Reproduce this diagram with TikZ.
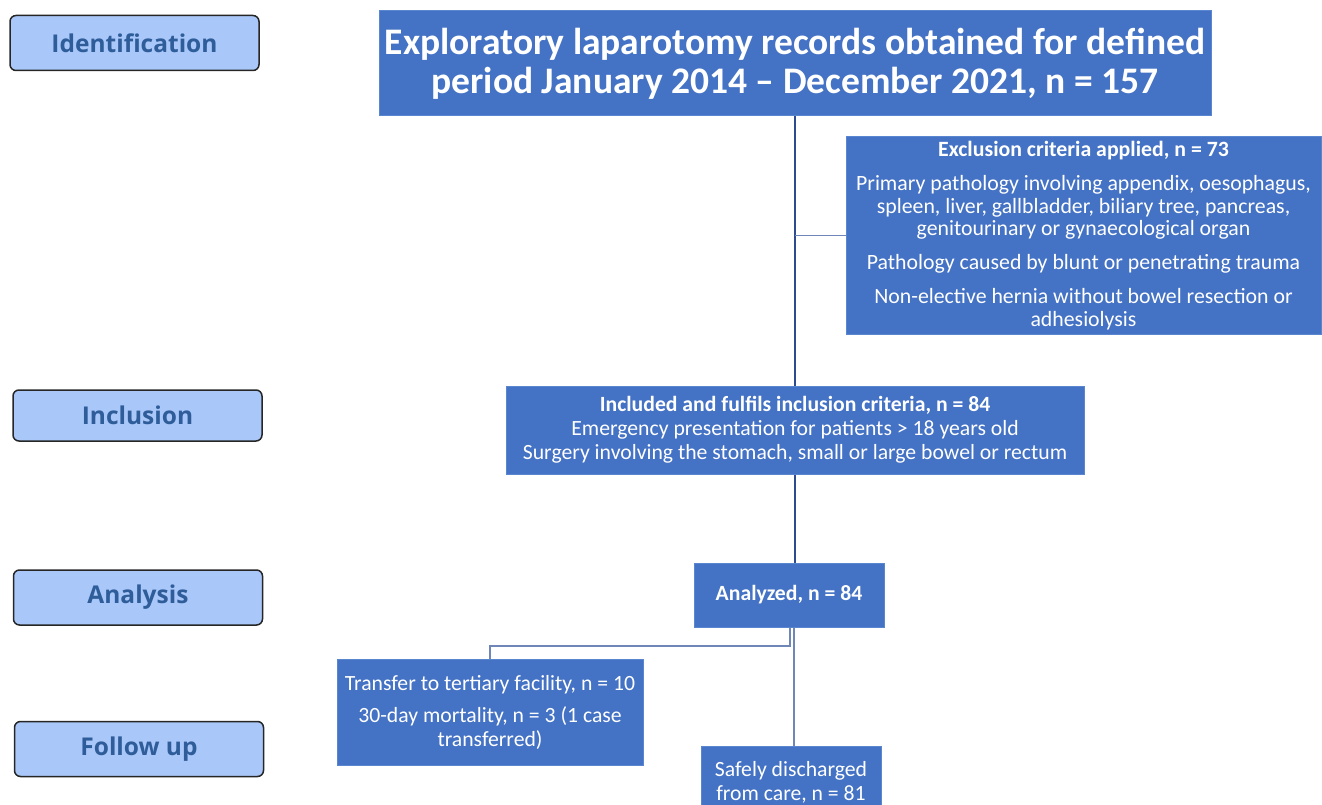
\documentclass[tikz,border=0pt]{standalone}
\usepackage{fontspec}
\setmainfont{Carlito}
\newfontfamily\labfont{Open Sans}
\definecolor{boxblue}{HTML}{4472C4}
\definecolor{boxedge}{HTML}{5A86D0}
\definecolor{lineblue}{HTML}{2F4B8F}
\definecolor{lightline}{HTML}{6F86B8}
\definecolor{labfill}{HTML}{A9C7F8}
\definecolor{labtext}{HTML}{2E5D9A}
\tikzset{
  stagebox/.style={draw=black!85, line width=1.5pt, fill=labfill, rounded corners=6pt,
    minimum width=249pt, minimum height=55pt, inner sep=0pt,
    font=\labfont\bfseries\fontsize{24.5}{28}\selectfont, text=labtext},
  flowbox/.style={draw=boxedge, line width=1pt, fill=boxblue, text=white, align=center, inner sep=0pt},
  conn/.style={draw=lineblue, line width=1.8pt},
  thinconn/.style={draw=lightline, line width=1.3pt}
}
\begin{document}
\begin{tikzpicture}[x=1pt,y=-1pt]
\useasboundingbox (0,0) rectangle (1322,805);
% stage labels
\node[stagebox] (sid) at (134.5,43) {Identification};
\node[stagebox, minimum height=51pt] (sin) at (137.5,415.5) {Inclusion};
\node[stagebox] (san) at (138,597.5) {Analysis};
\node[stagebox] (sfu) at (139,749) {Follow up};
% flow boxes
\node[flowbox, minimum width=832pt, minimum height=105pt,
  font=\bfseries\fontsize{37.5}{39}\selectfont] (top) at (795,63.5)
  {Exploratory laparotomy records obtained for defined\\period January 2014 -- December 2021, n = 157};
\node[flowbox, minimum width=475pt, minimum height=197pt,
  font=\fontsize{21.8}{22.8}\selectfont] (excl) at (1083.5,235.5)
  {{\bfseries Exclusion criteria applied, n = 73}\\[11pt]
   Primary pathology involving appendix, oesophagus,\\
   spleen, liver, gallbladder, biliary tree, pancreas,\\
   genitourinary or gynaecological organ\\[11pt]
   Pathology caused by blunt or penetrating trauma\\[11pt]
   Non-elective hernia without bowel resection or\\
   adhesiolysis};
\node[flowbox, minimum width=578pt, minimum height=88pt,
  font=\fontsize{21.7}{24}\selectfont] (incl) at (795,430)
  {{\bfseries Included and fulfils inclusion criteria, n = 84}\\
   Emergency presentation for patients > 18 years old\\
   Surgery involving the stomach, small or large bowel or rectum};
\node[flowbox, minimum width=190pt, minimum height=64pt,
  font=\bfseries\fontsize{21.7}{24}\selectfont] (anal) at (789,595)
  {Analyzed, n = 84};
\node[flowbox, minimum width=306pt, minimum height=106pt,
  font=\fontsize{21.7}{23.5}\selectfont] (trans) at (490,712)
  {Transfer to tertiary facility, n = 10\\[9pt]
   30-day mortality, n = 3 (1 case\\ transferred)};
\node[flowbox, minimum width=180pt, minimum height=72pt,
  font=\fontsize{21.7}{24}\selectfont] (safe) at (791,782)
  {Safely discharged\\ from care, n = 81};
% connectors
\coordinate (j) at (795,0);
\coordinate (b) at (790,646);
\draw[conn] (top.south -| j) -- (incl.north -| j);
\draw[thinconn] (excl.west -| j) -- (excl.west);
\draw[conn] (incl.south -| j) -- (anal.north -| j);
\draw[thinconn] (anal.south -| b) -- (b) -| (trans.north);
\draw[thinconn] ([xshift=4pt]anal.south -| b) -- ([xshift=4pt]safe.north -| b);
\end{tikzpicture}
\end{document}
